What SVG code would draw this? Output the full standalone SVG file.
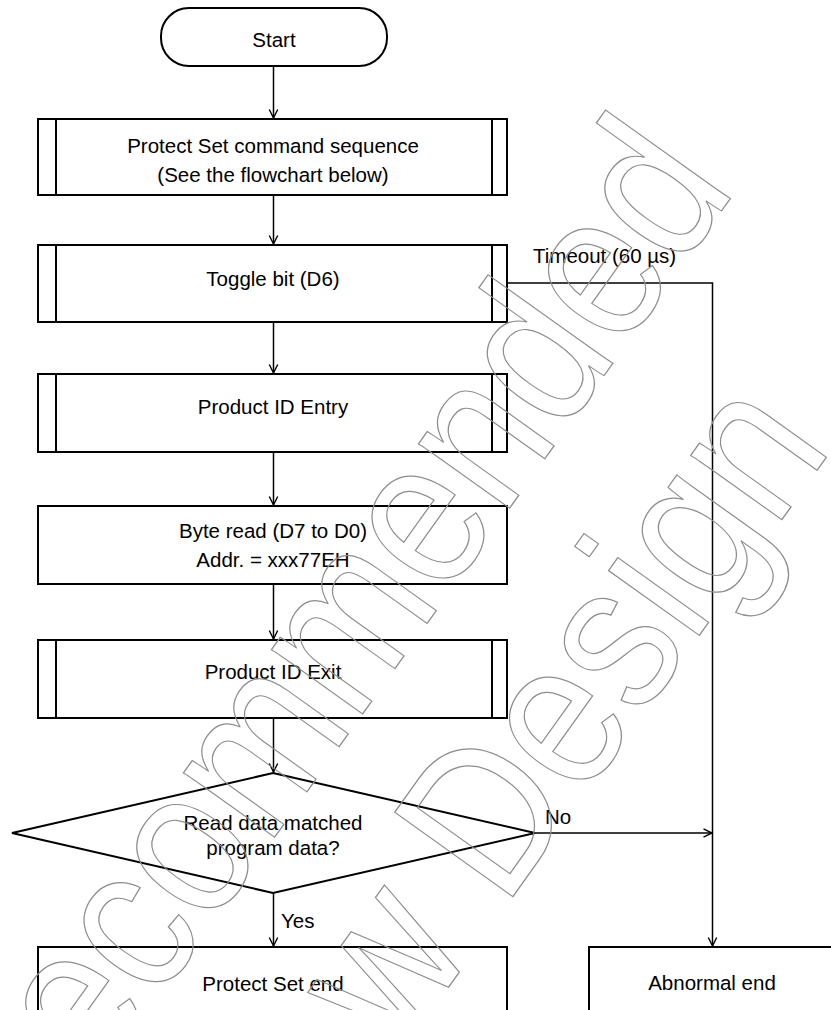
<svg xmlns="http://www.w3.org/2000/svg" width="831" height="1010" viewBox="0 0 831 1010">
  <defs>
    <marker id="arr" markerUnits="userSpaceOnUse" markerWidth="12" markerHeight="12" refX="9.5" refY="5" orient="auto">
      <path d="M1,0.8 L9.5,5 L1,9.2" fill="none" stroke="#000" stroke-width="1.4"/>
    </marker>
  </defs>
  <style>
    .box { fill: #fff; stroke: #000; stroke-width: 2; }
    .sub { fill: none; stroke: #000; stroke-width: 2; }
    .lbl { font-family: "Liberation Sans", Arial, sans-serif; font-size: 20.5px; fill: #000; text-anchor: middle; }
    .note { font-family: "Liberation Sans", Arial, sans-serif; font-size: 20.5px; fill: #000; }
    .conn { fill: none; stroke: #000; stroke-width: 1.5; }
    .wm { font-family: "Liberation Sans", Arial, sans-serif; font-size: 182px; fill: none; stroke: #8e8e8e; stroke-width: 1.1; text-anchor: middle; }
  </style>
  <rect width="831" height="1010" fill="#fff"/>

  <g id="start">
    <rect class="box" x="161" y="8" width="226" height="58" rx="28" ry="28"/>
    <text class="lbl" x="274" y="47">Start</text>
  </g>

  <g id="protect-set-seq">
    <rect class="box" x="38" y="119" width="469" height="76"/>
    <line class="sub" x1="56" y1="119" x2="56" y2="195"/>
    <line class="sub" x1="492" y1="119" x2="492" y2="195"/>
    <text class="lbl" x="273" y="153">Protect Set command sequence</text>
    <text class="lbl" x="273" y="182">(See the flowchart below)</text>
  </g>

  <g id="toggle-bit">
    <rect class="box" x="38" y="245" width="469" height="77"/>
    <line class="sub" x1="56" y1="245" x2="56" y2="322"/>
    <line class="sub" x1="492" y1="245" x2="492" y2="322"/>
    <text class="lbl" x="273" y="286">Toggle bit (D6)</text>
  </g>

  <g id="product-id-entry">
    <rect class="box" x="38" y="374" width="469" height="78"/>
    <line class="sub" x1="56" y1="374" x2="56" y2="452"/>
    <line class="sub" x1="492" y1="374" x2="492" y2="452"/>
    <text class="lbl" x="273" y="414">Product ID Entry</text>
  </g>

  <g id="byte-read">
    <rect class="box" x="38" y="506" width="469" height="78"/>
    <text class="lbl" x="273" y="538">Byte read (D7 to D0)</text>
    <text class="lbl" x="273" y="567">Addr. = xxx77EH</text>
  </g>

  <g id="product-id-exit">
    <rect class="box" x="38" y="640" width="469" height="78"/>
    <line class="sub" x1="56" y1="640" x2="56" y2="718"/>
    <line class="sub" x1="492" y1="640" x2="492" y2="718"/>
    <text class="lbl" x="273" y="679">Product ID Exit</text>
  </g>

  <g id="decision">
    <polygon class="box" points="273,773 535,833 273,893 12,833"/>
    <text class="lbl" x="273" y="830">Read data matched</text>
    <text class="lbl" x="273" y="855">program data?</text>
  </g>

  <g id="protect-set-end">
    <rect class="box" x="38" y="947" width="469" height="80"/>
    <text class="lbl" x="273" y="991">Protect Set end</text>
  </g>

  <g id="abnormal-end">
    <rect class="box" x="589" y="947" width="250" height="80"/>
    <text class="lbl" x="712" y="990">Abnormal end</text>
  </g>

  <g id="connectors">
    <line class="conn" x1="273.5" y1="66" x2="273.5" y2="118" marker-end="url(#arr)"/>
    <line class="conn" x1="273.5" y1="195" x2="273.5" y2="244" marker-end="url(#arr)"/>
    <line class="conn" x1="273.5" y1="322" x2="273.5" y2="373" marker-end="url(#arr)"/>
    <line class="conn" x1="273.5" y1="452" x2="273.5" y2="505" marker-end="url(#arr)"/>
    <line class="conn" x1="273.5" y1="584" x2="273.5" y2="639" marker-end="url(#arr)"/>
    <line class="conn" x1="273.5" y1="718" x2="273.5" y2="772" marker-end="url(#arr)"/>
    <line class="conn" x1="273.5" y1="893" x2="273.5" y2="946" marker-end="url(#arr)"/>
    <polyline class="conn" points="507,283 712.5,283 712.5,946" marker-end="url(#arr)"/>
    <line class="conn" x1="535" y1="833" x2="712" y2="833" marker-end="url(#arr)"/>
    <text class="note" x="533" y="263">Timeout (60 µs)</text>
    <text class="note" x="545" y="824">No</text>
    <text class="note" x="281" y="928">Yes</text>
  </g>

  <g id="watermark" transform="translate(282,827) rotate(-54.5) scale(1,1.16)">
    <text class="wm" x="0" y="0">Not Recommended</text>
    <text class="wm" x="7" y="197">for New Design</text>
  </g>
</svg>
